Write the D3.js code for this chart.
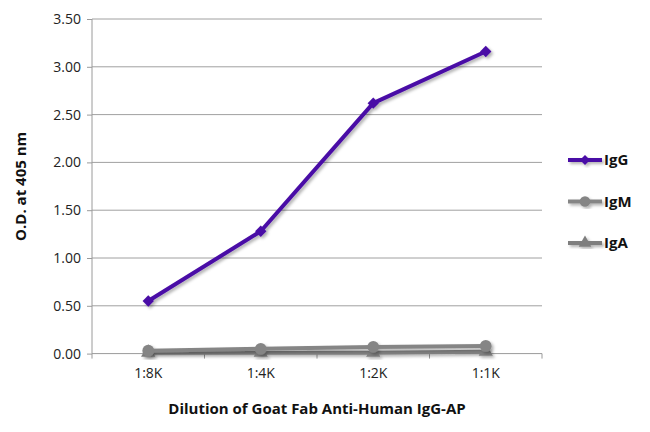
<!DOCTYPE html>
<html><head><meta charset="utf-8">
<script src="https://cdn.jsdelivr.net/npm/d3@7"></script>
<style>body{margin:0;background:#fff}svg{display:block}text{font-family:"Open Sans","Noto Sans",sans-serif}</style>
</head><body><svg id="c" width="650" height="432"></svg>
<script>
const categories = ["1:8K","1:4K","1:2K","1:1K"];
const igG = [0.55, 1.28, 2.62, 3.16];
const igM = [0.03, 0.05, 0.07, 0.08];
const igA = [0.01, 0.01, 0.01, 0.02];
const yTicks = [0,0.5,1,1.5,2,2.5,3,3.5];
const seriesNames = ["IgG","IgM","IgA"];

const series = [
  {name:seriesNames[0], values:igG, color:"#4a0ca6", sym:d3.symbolSquare, size:64, rot:45},
  {name:seriesNames[1], values:igM, color:"#858585", sym:d3.symbolCircle, size:110, rot:0},
  {name:seriesNames[2], values:igA, color:"#7f7f7f", sym:d3.symbolTriangle, size:90, rot:0}
];

const svg = d3.select("#c");
const defs = svg.append("defs");
const f = defs.append("filter").attr("id","sh").attr("x","-20%").attr("y","-20%").attr("width","140%").attr("height","140%");
f.append("feDropShadow").attr("dx",2).attr("dy",2).attr("stdDeviation",1.5).attr("flood-color","#000").attr("flood-opacity",0.3);

const L=92, R=542, T=19, B=353.6;
const x = d3.scaleBand().domain(categories).range([L,R]);
const y = d3.scaleLinear().domain([0,3.5]).range([B,T]);

svg.append("g").selectAll("line").data(yTicks.slice(1)).join("line")
  .attr("x1",L).attr("x2",R).attr("y1",d=>y(d)).attr("y2",d=>y(d))
  .attr("stroke","#a0a0a0").attr("stroke-width",1);

const ya = svg.append("g").attr("transform",`translate(${L},0)`)
  .call(d3.axisLeft(y).tickValues(yTicks).tickFormat(d3.format(".2f")).tickSize(5).tickPadding(6));
ya.select(".domain").attr("stroke","#9a9a9a").attr("d",`M-0,${T}V${B}`);
ya.selectAll(".tick line").attr("stroke","#9a9a9a");
ya.selectAll("text").attr("font-size",14).attr("fill","#222").attr("font-family","'Open Sans',sans-serif");

const xa = svg.append("g").attr("transform",`translate(0,${B})`)
  .call(d3.axisBottom(x).tickSize(0).tickPadding(14));
xa.select(".domain").attr("stroke","#9a9a9a").attr("d",`M${L},0H${R}`);
xa.selectAll("text").attr("font-size",14).attr("fill","#222").attr("font-family","'Open Sans',sans-serif");
svg.append("g").selectAll("line").data(d3.range(categories.length+1)).join("line")
  .attr("x1",i=>L+i*x.step()).attr("x2",i=>L+i*x.step())
  .attr("y1",B).attr("y2",B+5).attr("stroke","#9a9a9a");

const line = d3.line().x((d,i)=>x(categories[i])+x.bandwidth()/2).y(d=>y(d));

[...series].reverse().forEach(s=>{
  const g = svg.append("g").attr("filter","url(#sh)");
  g.append("path").datum(s.values).attr("d",line).attr("fill","none")
    .attr("stroke",s.color).attr("stroke-width",4).attr("stroke-linejoin","round");
  g.selectAll("path.m").data(s.values).join("path").attr("class","m")
    .attr("transform",(d,i)=>`translate(${x(categories[i])+x.bandwidth()/2},${y(d)}) rotate(${s.rot})`)
    .attr("d",d3.symbol(s.sym,s.size)).attr("fill",s.color);
});

const lg = svg.append("g");
series.forEach((s,i)=>{
  const yy = 160 + i*41.5;
  const g = lg.append("g").attr("filter","url(#sh)");
  g.append("line").attr("x1",568).attr("x2",602).attr("y1",yy).attr("y2",yy)
    .attr("stroke",s.color).attr("stroke-width",4);
  g.append("path").attr("transform",`translate(585,${yy}) rotate(${s.rot})`).attr("d",d3.symbol(s.sym,s.size*0.8)).attr("fill",s.color);
  lg.append("text").attr("x",604).attr("y",yy).attr("dy","0.36em")
    .attr("font-size",15).attr("font-weight","bold").attr("fill","#111").text(s.name);
});

svg.append("text").attr("x",(L+R)/2).attr("y",414).attr("text-anchor","middle")
  .attr("font-size",15).attr("font-weight","bold").attr("fill","#111")
  .text("Dilution of Goat Fab Anti-Human IgG-AP");
svg.append("text").attr("transform",`translate(26,${(T+B)/2}) rotate(-90)`).attr("text-anchor","middle")
  .attr("font-size",15).attr("font-weight","bold").attr("fill","#111")
  .text("O.D. at 405 nm");
</script></body></html>
